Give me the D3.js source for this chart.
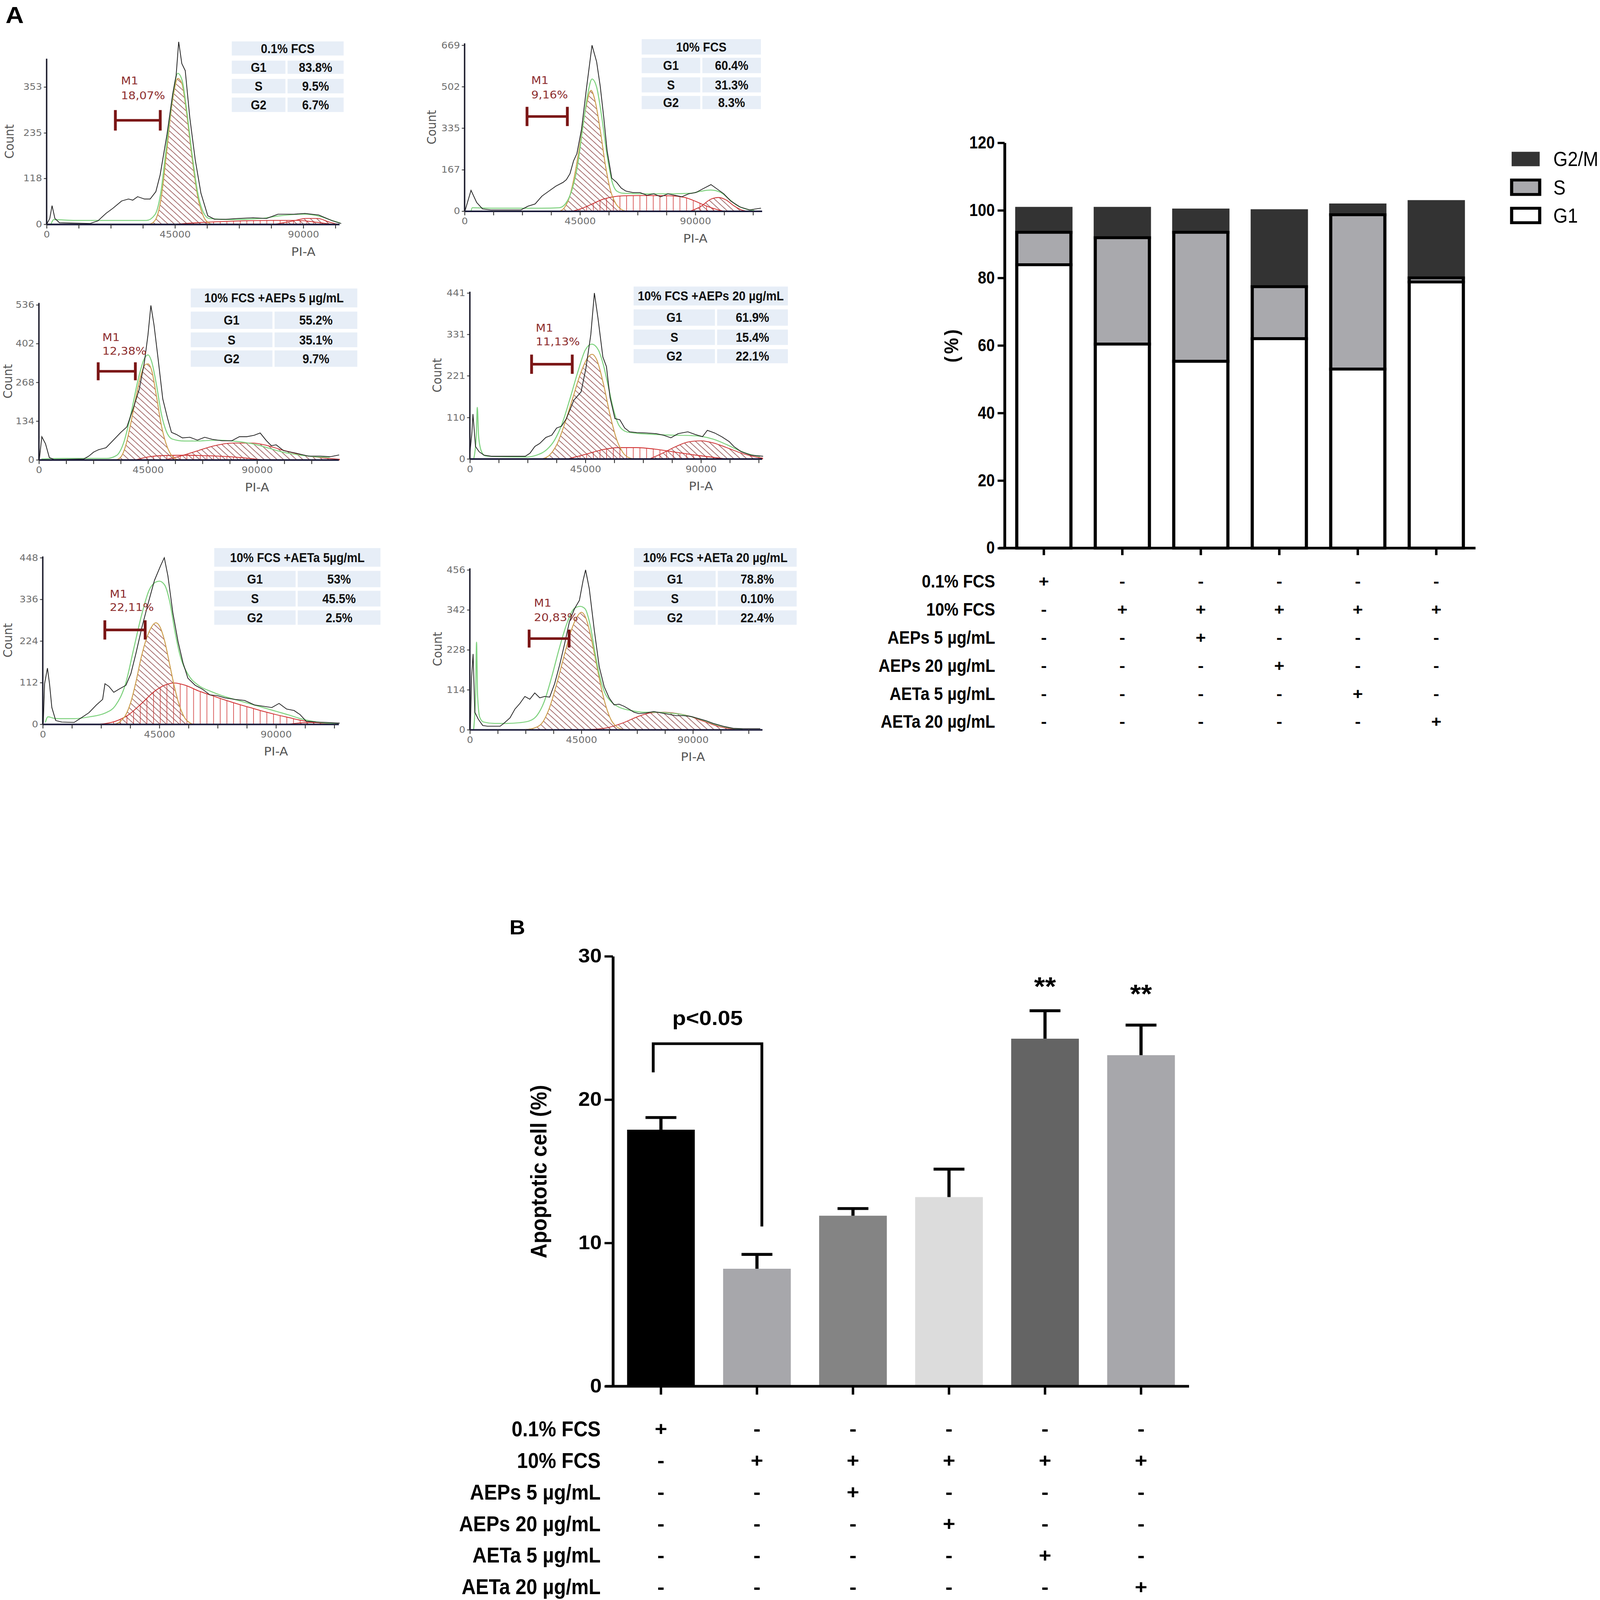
<!DOCTYPE html>
<html>
<head>
<meta charset="utf-8">
<script src="https://cdn.jsdelivr.net/npm/d3@7"></script>
<style>
  html, body { margin: 0; padding: 0; background: #fff; overflow: hidden; }
  svg { display: block; width: 100vw; height: 100vh; }
</style>
</head>
<body>
<svg id="fig" viewBox="0 0 4563 4986" preserveAspectRatio="none"></svg>
<script>
// ---------- data ----------
const histTitles = ["0.1% FCS", "10% FCS", "10% FCS +AEPs 5 \u00b5g/mL", "10% FCS +AEPs 20 \u00b5g/mL",
                    "10% FCS +AETa 5\u00b5g/mL", "10% FCS +AETa 20 \u00b5g/mL"];
const tableG1 = ["83.8%", "60.4%", "55.2%", "61.9%", "53%", "78.8%"];
const tableS  = ["9.5%", "31.3%", "35.1%", "15.4%", "45.5%", "0.10%"];
const tableG2 = ["6.7%", "8.3%", "9.7%", "22.1%", "2.5%", "22.4%"];
const m1Labels = ["18,07%", "9,16%", "12,38%", "11,13%", "22,11%", "20,83%"];
const histYTicks = [[0, 118, 235, 353], [0, 167, 335, 502, 669], [0, 134, 268, 402, 536],
                    [0, 110, 221, 331, 441], [0, 112, 224, 336, 448], [0, 114, 228, 342, 456]];
const histXLabels = [0, 45000, 90000];

// raw DNA content traces [PI-A, count]
const histTrace1 = [[0,0],[1100,15],[1900,48],[2900,15],[4500,4],[15200,2],[18000,9],[20800,28],[23200,41],[26300,60],[28700,65],[30200,62],[31900,71],[34300,65],[36300,65],[38300,84],[39800,127],[42200,231],[44200,335],[45400,382],[46300,469],[47400,413],[48600,395],[50200,274],[52100,166],[54100,80],[56500,22],[58900,13],[62900,13],[66800,15],[72400,17],[77100,15],[81100,26],[86700,26],[90600,28],[95400,24],[100200,9],[103300,2]];
const histTrace2 = [[200,3],[2500,84],[4700,35],[7000,9],[10200,5],[22000,5],[24700,20],[27500,29],[30200,61],[32900,81],[35600,101],[38400,116],[39700,127],[41100,151],[42500,203],[43800,232],[45600,330],[47500,492],[49700,669],[51500,602],[52900,504],[54300,376],[55600,243],[57400,133],[59300,116],[61100,93],[62900,81],[65600,75],[68400,75],[71100,64],[73800,70],[76500,58],[79300,70],[82000,64],[84700,58],[87400,70],[90200,75],[92900,90],[96100,107],[98400,90],[101100,70],[103800,41],[107400,17],[111100,5],[115600,12]];
const histTrace3 = [[200,3],[1200,80],[2700,56],[4300,8],[6300,1],[18500,3],[20600,13],[22600,27],[24600,35],[27700,42],[30700,68],[33800,95],[36300,114],[38900,177],[41400,244],[43500,336],[45000,432],[46200,534],[47500,466],[49100,355],[51100,211],[53100,143],[54700,95],[56700,88],[59200,76],[62300,78],[65400,68],[68400,78],[71500,71],[75500,66],[79600,66],[82700,80],[85700,80],[88800,85],[91300,93],[93900,66],[95900,49],[97900,52],[100900,32],[106100,23],[111200,13],[116300,13],[120300,11],[123900,17]];
const histTrace4 = [[0,15],[800,70],[1200,119],[2200,33],[3600,19],[5500,10],[8300,7],[21600,7],[23400,15],[25300,33],[27200,41],[29600,57],[31900,63],[33800,82],[35700,87],[37600,107],[40500,156],[43300,178],[45200,241],[47100,330],[48500,441],[49900,374],[51800,271],[53200,245],[54600,163],[56500,107],[58400,104],[60300,82],[62200,72],[65000,70],[68800,69],[72600,67],[75400,63],[78300,56],[81100,67],[84900,72],[87700,65],[90600,59],[92500,76],[95300,69],[98100,59],[101000,46],[102800,33],[105700,19],[109500,10],[114200,7]];
const histTrace5 = [[200,3],[700,109],[1800,151],[2600,109],[3500,45],[5000,10],[7300,6],[12100,5],[15000,18],[17800,31],[20700,52],[23100,67],[24000,109],[25500,102],[27400,86],[29300,94],[32100,105],[34000,136],[35900,189],[38300,262],[40700,326],[43100,387],[45500,427],[46900,448],[48300,399],[50200,300],[52200,223],[54100,166],[56000,124],[58800,105],[61700,94],[64500,79],[67400,77],[70300,71],[74100,67],[77900,64],[81700,52],[85500,48],[88400,45],[91200,56],[94100,41],[97000,37],[99300,26],[101700,8],[105500,6],[109400,5],[114600,3]];
const histTrace6 = [[200,2],[700,151],[1300,216],[2000,50],[3400,30],[5200,12],[7200,10],[12200,10],[13700,18],[16200,34],[18200,59],[20200,75],[22200,95],[24200,87],[26200,105],[28200,91],[30200,95],[32200,93],[34200,131],[36200,184],[38200,244],[40200,309],[42200,345],[44200,369],[45700,426],[46700,456],[48200,402],[50200,285],[52200,180],[54200,123],[56200,91],[58200,71],[60200,73],[62200,67],[64200,59],[66200,50],[68200,46],[71200,48],[74200,52],[77200,48],[80200,44],[83200,40],[86200,40],[89200,38],[92200,32],[95200,26],[98200,18],[102200,10],[106200,4],[110200,3],[117200,3]];

// model fit (green)
const histFit1 = [[1500,0],[2500,12],[10000,10],[20000,10],[35000,10],[38000,25],[40000,80],[42000,200],[44000,320],[46000,388],[47500,370],[49000,300],[51000,180],[53000,80],[55000,30],[57000,15],[65000,12],[75000,15],[82000,22],[90000,26],[96000,20],[100000,10],[103000,3]];
const histFit2 = [[2500,0],[3000,14],[10000,12],[20000,12],[30000,12],[37000,14],[40000,40],[42000,90],[44000,180],[46000,330],[48000,470],[49700,533],[51500,500],[53500,380],[55500,230],[57500,120],[59500,80],[62000,72],[70000,70],[80000,70],[88000,72],[92000,80],[96000,85],[100000,75],[103000,50],[106000,25],[110000,8],[113000,3]];
const histFit3 = [[1000,3],[10000,5],[28000,5],[32000,15],[35000,60],[38000,160],[41000,280],[43500,350],[45000,363],[46500,340],[48500,260],[50500,160],[52500,100],[55000,72],[60000,65],[65000,65],[70000,67],[75000,68],[80000,65],[85000,60],[90000,52],[95000,40],[100000,28],[105000,20],[110000,14],[115000,10],[120000,9]];
const histFit4 = [[1500,0],[2500,60],[2900,137],[3400,60],[4500,20],[6000,8],[10000,6],[22000,5],[26000,10],[30000,25],[33000,50],[36000,95],[39000,160],[42000,230],[45000,290],[47500,305],[50000,290],[52000,250],[54000,190],[56000,130],[58000,90],[61000,72],[65000,68],[72000,65],[80000,63],[86000,62],[90000,60],[95000,52],[100000,38],[104000,25],[108000,14],[113000,6]];
const histFit5 = [[1000,5],[2000,20],[5000,15],[12000,15],[18000,20],[24000,30],[28000,50],[32000,110],[35000,200],[38000,290],[41000,360],[43500,382],[45000,385],[47000,375],[49000,330],[51000,250],[53000,185],[56000,135],[60000,105],[65000,88],[70000,75],[75000,65],[80000,55],[85000,45],[90000,35],[95000,25],[100000,14],[105000,7],[110000,3],[114000,1]];
const histFit6 = [[1500,0],[2300,100],[2700,250],[3100,100],[4000,35],[5500,22],[10000,18],[15000,18],[20000,20],[24000,25],[27000,40],[30000,80],[33000,150],[36000,230],[39000,300],[42000,345],[44500,352],[46500,345],[48500,300],[50500,220],[52500,150],[54500,105],[57000,80],[60000,65],[65000,55],[70000,50],[75000,50],[80000,48],[85000,44],[90000,36],[95000,25],[100000,13],[105000,5],[110000,1]];

// fitted G1 / S / G2 components
const histG1_1 = [[36000,0],[38000,10],[40000,60],[42000,180],[44000,310],[46000,375],[47500,360],[49000,290],[51000,170],[53000,70],[55000,20],[57000,3],[58000,0]];
const histG1_2 = [[37000,0],[39000,15],[41000,60],[43000,150],[45000,270],[47000,400],[49300,487],[51000,440],[53000,320],[55000,180],[57000,80],[59000,30],[61000,8],[63000,0]];
const histG1_3 = [[32000,0],[34000,12],[36000,55],[38000,130],[40000,215],[42000,290],[44000,330],[45000,332],[46500,310],[48500,220],[50500,120],[52500,55],[54500,18],[56500,3],[58000,0]];
const histG1_4 = [[28000,0],[31000,10],[34000,40],[37000,95],[40000,160],[43000,225],[46000,270],[47600,278],[49500,262],[52000,200],[54500,120],[57000,55],[59500,18],[62000,3],[64000,0]];
const histG1_5 = [[28000,0],[30000,8],[32000,25],[34000,60],[36000,115],[38000,180],[40000,230],[42000,262],[43600,273],[45000,265],[47000,225],[49000,160],[51000,95],[53000,45],[55000,15],[57000,3],[58000,0]];
const histG1_6 = [[22000,0],[26000,5],[29000,18],[32000,60],[35000,130],[38000,210],[41000,285],[43500,325],[45000,335],[47000,315],[49000,260],[51000,190],[53000,120],[55000,65],[57000,28],[59000,10],[61000,2],[63000,0]];

const histS_1 = [[45000,0],[55000,5],[65000,8],[80000,10],[88000,10],[95000,5],[100000,0]];
const histS_2 = [[42000,0],[46000,12],[50000,30],[54000,48],[58000,58],[62000,62],[70000,63],[80000,62],[86000,55],[90000,40],[94000,22],[98000,8],[101000,0]];
const histS_3 = [[40000,0],[45000,10],[52000,15],[60000,16],[70000,14],[80000,10],[88000,4],[92000,0]];
const histS_4 = [[38000,0],[45000,12],[52000,25],[58000,30],[65000,30],[72000,26],[80000,18],[88000,10],[95000,4],[100000,0]];
const histS_5 = [[22000,0],[28000,8],[33000,25],[38000,55],[43000,88],[47000,105],[50700,111],[55000,105],[60000,90],[65000,78],[70000,66],[75000,55],[80000,45],[85000,35],[90000,26],[95000,18],[100000,10],[105000,5],[110000,2],[114000,0]];
const histS_6 = [];

const histG2_1 = [[80000,0],[86000,8],[91000,15],[95000,15],[99000,6],[102000,0]];
const histG2_2 = [[88000,0],[92000,18],[96000,48],[99000,55],[102000,45],[105000,22],[108000,5],[110000,0]];
const histG2_3 = [[52000,0],[58000,12],[65000,30],[72000,48],[80000,58],[88000,58],[94000,50],[100000,35],[106000,22],[112000,12],[118000,6],[124000,2]];
const histG2_4 = [[70000,0],[75000,15],[80000,32],[85000,45],[90000,48],[95000,42],[100000,30],[105000,17],[110000,7],[114000,2]];
const histG2_5 = [[95000,0],[100000,4],[105000,5],[110000,3],[114000,0]];
const histG2_6 = [[47000,0],[55000,5],[62000,20],[68000,38],[73000,48],[78000,50],[83000,47],[88000,40],[92000,30],[96000,20],[100000,10],[104000,4],[108000,0]];

// stacked cell-cycle bars (%)
const phaseKeys = ["G1", "S", "G2"];
const phaseLegend = ["G2/M", "S", "G1"];
const stackG1 = [83.9, 60.4, 55.3, 62.0, 53.0, 78.8];
const stackS  = [9.6, 31.5, 38.2, 15.4, 45.7, 1.2];
const stackG2 = [7.1, 8.7, 6.6, 22.5, 2.9, 22.6];
const stackTicks = [0, 20, 40, 60, 80, 100, 120];

// apoptosis bars (%)
const apopMean = [17.9, 8.2, 11.9, 13.2, 24.25, 23.1];
const apopErr  = [0.85, 1.0, 0.5, 1.95, 1.95, 2.1];
const apopTicks = [0, 10, 20, 30];
const apopStars = ["", "", "", "", "**", "**"];
const apopStarAt = [0, 0, 0, 0, 28.3, 27.8];
const bracketLeft = 21.9, bracketTop = 23.9, bracketRight = 11.15, bracketText = "p<0.05", bracketTextAt = 25.2;

// treatment design
const treatments = ["0.1% FCS", "10% FCS", "AEPs 5 \u00b5g/mL", "AEPs 20 \u00b5g/mL", "AETa 5 \u00b5g/mL", "AETa 20 \u00b5g/mL"];
const design = [
  [1, 0, 0, 0, 0, 0],
  [0, 1, 1, 1, 1, 1],
  [0, 0, 1, 0, 0, 0],
  [0, 0, 0, 1, 0, 0],
  [0, 0, 0, 0, 1, 0],
  [0, 0, 0, 0, 0, 1]
];

// ---------- layout ----------
const ARIAL = "'Liberation Sans',Arial,sans-serif";
const FLOW = "'DejaVu Sans',Verdana,sans-serif";
const SQ = 0.82; // horizontal squeeze to mimic a narrow face

const histTraces = [histTrace1, histTrace2, histTrace3, histTrace4, histTrace5, histTrace6];
const histFits = [histFit1, histFit2, histFit3, histFit4, histFit5, histFit6];
const histG1s = [histG1_1, histG1_2, histG1_3, histG1_4, histG1_5, histG1_6];
const histSs = [histS_1, histS_2, histS_3, histS_4, histS_5, histS_6];
const histG2s = [histG2_1, histG2_2, histG2_3, histG2_4, histG2_5, histG2_6];

const histLayout = [
  {x0:133, x90:865, xEnd:968, y0:699, tickPx:271, yTop:183, countX:26,
   tbl:{x0:658, x1:983, split:817, rows:[[126,176],[186,233],[243,294],[301,352]]},
   m1:{x0:329, x1:457, y:375, h:32, tx:345, ty1:252, ty2:298}},
  {x0:1325, x90:1983, xEnd:2173, y0:658, tickPx:141, yTop:135, countX:1230,
   tbl:{x0:1827, x1:2173, split:2000, rows:[[119,173],[177,231],[238,291],[296,343]]},
   m1:{x0:1503, x1:1618, y:363, h:30, tx:1515, ty1:251, ty2:296}},
  {x0:111, x90:733, xEnd:966, y0:1433, tickPx:950, yTop:944, countX:22,
   tbl:{x0:541, x1:1022, split:780, rows:[[896,961],[968,1028],[1033,1085],[1089,1146]]},
   m1:{x0:280, x1:386, y:1157, h:28, tx:292, ty1:1052, ty2:1094}},
  {x0:1340, x90:1999, xEnd:2173, y0:1430, tickPx:913, yTop:909, countX:1246,
   tbl:{x0:1804, x1:2250, split:2042, rows:[[890,955],[961,1018],[1024,1078],[1085,1135]]},
   m1:{x0:1516, x1:1632, y:1135, h:30, tx:1528, ty1:1022, ty2:1065}},
  {x0:122, x90:787, xEnd:966, y0:2257, tickPx:1738, yTop:1734, countX:22,
   tbl:{x0:608, x1:1088, split:846, rows:[[1705,1769],[1776,1833],[1838,1893],[1899,1950]]},
   m1:{x0:299, x1:414, y:1963, h:30, tx:313, ty1:1851, ty2:1893}},
  {x0:1340, x90:1976, xEnd:2174, y0:2274, tickPx:1776, yTop:1771, countX:1247,
   tbl:{x0:1805, x1:2275, split:2044, rows:[[1705,1769],[1776,1833],[1838,1893],[1899,1950]]},
   m1:{x0:1509, x1:1623, y:1990, h:28, tx:1523, ty1:1880, ty2:1924}}
];

const svg = d3.select("#fig");
svg.append("rect").attr("width", 4563).attr("height", 4986).attr("fill", "#fff");

// hatch patterns for the fitted components
const defs = svg.append("defs");
defs.append("pattern").attr("id", "hatchDiag").attr("patternUnits", "userSpaceOnUse")
    .attr("width", 13).attr("height", 13).attr("patternTransform", "rotate(-45)")
  .append("line").attr("x1", 1).attr("x2", 1).attr("y1", 0).attr("y2", 13)
    .attr("stroke", "#8e4646").attr("stroke-width", 1.8);
defs.append("pattern").attr("id", "hatchVert").attr("patternUnits", "userSpaceOnUse")
    .attr("width", 19).attr("height", 19)
  .append("line").attr("x1", 1).attr("x2", 1).attr("y1", 0).attr("y2", 19)
    .attr("stroke", "#d23c3c").attr("stroke-width", 1.8);

// panel letters
svg.append("text").attr("x", 16).attr("y", 72).text("A")
  .attr("font-family", ARIAL).attr("font-weight", "bold").attr("font-size", 72);
svg.append("text").attr("x", 1453).attr("y", 2912).text("B")
  .attr("font-family", ARIAL).attr("font-weight", "bold").attr("font-size", 62);

// ---------- flow cytometry histograms ----------
function drawHist(i) {
  const p = histLayout[i];
  const g = svg.append("g");
  const x = d3.scaleLinear().domain([0, 90000]).range([p.x0, p.x90]);
  const xMax = x.invert(p.xEnd);
  x.domain([0, xMax]).range([p.x0, p.xEnd]);
  const ticks = histYTicks[i];
  const y = d3.scaleLinear().domain([0, ticks[ticks.length - 1]]).range([p.y0, p.tickPx]);

  // table with percentages
  const t = p.tbl, gap = 3;
  const cells = [{x0: t.x0, x1: t.x1, r: 0, text: histTitles[i]}];
  ["G1", "S", "G2"].forEach((lab, k) => {
    const val = [tableG1, tableS, tableG2][k][i];
    cells.push({x0: t.x0, x1: t.split, r: k + 1, text: lab});
    cells.push({x0: t.split, x1: t.x1, r: k + 1, text: val});
  });
  g.selectAll(".cell").data(cells).join("rect")
    .attr("x", d => d.x0 + gap).attr("width", d => d.x1 - d.x0 - 2 * gap)
    .attr("y", d => t.rows[d.r][0] + gap).attr("height", d => t.rows[d.r][1] - t.rows[d.r][0] - 2 * gap)
    .attr("fill", "#e7eef7");
  g.selectAll(".ctext").data(cells).join("text")
    .attr("transform", d => `translate(${(d.x0 + d.x1) / 2},${(t.rows[d.r][0] + t.rows[d.r][1]) / 2}) scale(${SQ},1)`)
    .attr("text-anchor", "middle").attr("dominant-baseline", "central")
    .attr("font-family", ARIAL).attr("font-weight", "bold").attr("font-size", 41).attr("fill", "#111")
    .text(d => d.text);

  // fitted components
  const area = d3.area().x(d => x(d[0])).y0(p.y0).y1(d => y(d[1])).curve(d3.curveMonotoneX);
  const line = d3.line().x(d => x(d[0])).y(d => y(d[1])).curve(d3.curveMonotoneX);
  if (histG2s[i].length) {
    g.append("path").datum(histG2s[i]).attr("d", area)
      .attr("fill", "url(#hatchDiag)").attr("stroke", "#cc3838").attr("stroke-width", 2.5);
  }
  if (histSs[i].length) {
    g.append("path").datum(histSs[i]).attr("d", area)
      .attr("fill", "url(#hatchVert)").attr("stroke", "#d03030").attr("stroke-width", 2.5);
  }
  g.append("path").datum(histG1s[i]).attr("d", area)
    .attr("fill", "url(#hatchDiag)").attr("stroke", "#b4503c").attr("stroke-width", 2.5);
  g.append("path").datum(histG1s[i]).attr("d", line)
    .attr("fill", "none").attr("stroke", "#d8c850").attr("stroke-width", 2).attr("stroke-opacity", 0.8);
  g.append("path").datum(histFits[i]).attr("d", line)
    .attr("fill", "none").attr("stroke", "#7fd27f").attr("stroke-width", 3);
  g.append("path").datum(histTraces[i])
    .attr("d", d3.line().x(d => x(d[0])).y(d => y(d[1])))
    .attr("fill", "none").attr("stroke", "#1e1e1e").attr("stroke-width", 2.2);

  // axes
  const xa = g.append("g").attr("transform", `translate(0,${p.y0})`)
    .call(d3.axisBottom(x).tickValues(d3.range(0, xMax, 11250)).tickSize(13).tickSizeOuter(0)
      .tickFormat(d => histXLabels.includes(d) ? d : ""));
  xa.select(".domain").attr("stroke", "#1a1a3a").attr("stroke-width", 5);
  xa.selectAll(".tick line").attr("stroke", "#333").attr("stroke-width", 2.5);
  xa.selectAll(".tick text").attr("font-family", FLOW).attr("font-size", 28).attr("fill", "#6e6e6e")
    .attr("dy", "0.9em");
  const ya = g.append("g").attr("transform", `translate(${p.x0},0)`)
    .call(d3.axisLeft(y).tickValues(ticks).tickSize(8).tickPadding(5));
  ya.select(".domain").remove();
  ya.selectAll(".tick line").attr("stroke", "#333").attr("stroke-width", 2.5);
  ya.selectAll(".tick text").attr("font-family", FLOW).attr("font-size", 28).attr("fill", "#6e6e6e");
  g.append("line").attr("x1", p.x0).attr("x2", p.x0).attr("y1", p.y0).attr("y2", p.yTop)
    .attr("stroke", "#1a1a2a").attr("stroke-width", 4);

  g.append("text").attr("transform", `translate(${p.countX},${(p.y0 + p.yTop) / 2}) rotate(-90)`)
    .attr("text-anchor", "middle").attr("dominant-baseline", "central")
    .attr("font-family", FLOW).attr("font-size", 36).attr("fill", "#555").text("Count");
  g.append("text").attr("x", x(90000)).attr("y", p.y0 + 85)
    .attr("text-anchor", "middle").attr("dominant-baseline", "central")
    .attr("font-family", FLOW).attr("font-size", 36).attr("fill", "#555").text("PI-A");

  // M1 marker
  const m = p.m1;
  g.append("path")
    .attr("d", `M${m.x0},${m.y - m.h}V${m.y + m.h}M${m.x0},${m.y}H${m.x1}M${m.x1},${m.y - m.h}V${m.y + m.h}`)
    .attr("fill", "none").attr("stroke", "#7b1616").attr("stroke-width", 8);
  g.selectAll(".m1t").data(["M1", m1Labels[i]]).join("text")
    .attr("x", m.tx).attr("y", (d, k) => k ? m.ty2 : m.ty1).attr("dominant-baseline", "central")
    .attr("font-family", FLOW).attr("font-size", 33).attr("fill", "#8e2e2e").text(d => d);
}
d3.range(6).forEach(drawHist);

// ---------- stacked cell-cycle chart ----------
const stackRows = stackG1.map((v, i) => ({G1: v, S: stackS[i], G2: stackG2[i]}));
const series = d3.stack().keys(phaseKeys)(stackRows);
const xS = d3.scaleBand().domain(d3.range(6)).range([2865, 4208]).paddingInner(0.31).paddingOuter(0.155);
const yS = d3.scaleLinear().domain([0, 120]).range([1708, 445]);
const phaseFill = {G1: "#ffffff", S: "#a9a9ad", G2: "#333333"};
const phaseStroke = {G1: "#000", S: "#000", G2: "#333"};

const gS = svg.append("g");
series.slice().reverse().forEach(s => {
  gS.append("g").selectAll("rect").data(s).join("rect")
    .attr("x", (d, i) => xS(i)).attr("width", xS.bandwidth())
    .attr("y", d => yS(d[1])).attr("height", d => yS(d[0]) - yS(d[1]))
    .attr("fill", phaseFill[s.key]).attr("stroke", phaseStroke[s.key]).attr("stroke-width", 9);
});
const sYA = gS.append("g").attr("transform", "translate(2865,0)")
  .call(d3.axisLeft(yS).tickValues(stackTicks).tickSize(20).tickSizeOuter(0).tickPadding(8));
sYA.select(".domain").attr("stroke-width", 8);
sYA.selectAll(".tick line").attr("stroke-width", 7);
sYA.selectAll(".tick text").attr("x", -28 / SQ).attr("transform", `scale(${SQ},1)`)
  .attr("font-family", ARIAL).attr("font-weight", "bold").attr("font-size", 53).attr("fill", "#000");
const sXA = gS.append("g").attr("transform", "translate(0,1708)")
  .call(d3.axisBottom(xS).tickSize(22).tickSizeOuter(0).tickFormat(""));
sXA.select(".domain").attr("d", `M${xS.range()[0] - 16},0H${xS.range()[1]}`).attr("stroke-width", 8);
sXA.selectAll(".tick line").attr("stroke-width", 7);
gS.append("text").attr("transform", "translate(2713,1074) rotate(-90)")
  .attr("text-anchor", "middle").attr("dominant-baseline", "central")
  .attr("font-family", ARIAL).attr("font-weight", "bold").attr("font-size", 56).attr("letter-spacing", 8)
  .text("(%)");

// legend
const legKeys = ["G2", "S", "G1"];
const leg = gS.selectAll(".leg").data(legKeys).join("g")
  .attr("transform", (d, i) => `translate(4311,${473 + i * 88})`);
leg.append("rect").attr("width", 80).attr("height", 45)
  .attr("fill", d => phaseFill[d]).attr("stroke", d => phaseStroke[d]).attr("stroke-width", d => d === "G2" ? 0 : 9);
leg.append("text").attr("transform", `translate(119,23) scale(${SQ},1)`).attr("dominant-baseline", "central")
  .attr("font-family", ARIAL).attr("font-size", 64).attr("fill", "#000")
  .text((d, i) => phaseLegend[i]);

// treatment tables
function drawDesign(xScale, labelRight, rowY0, rowStep, fontSize) {
  const g = svg.append("g");
  g.selectAll(".lab").data(treatments).join("text")
    .attr("transform", (d, r) => `translate(${labelRight},${rowY0 + r * rowStep}) scale(${SQ},1)`)
    .attr("text-anchor", "end").attr("dominant-baseline", "central")
    .attr("font-family", ARIAL).attr("font-weight", "bold").attr("font-size", fontSize).attr("fill", "#000")
    .text(d => d);
  const cells = [];
  design.forEach((row, r) => row.forEach((v, c) => cells.push({r, c, v})));
  g.selectAll(".sym").data(cells).join("text")
    .attr("x", d => xScale(d.c) + xScale.bandwidth() / 2).attr("y", d => rowY0 + d.r * rowStep)
    .attr("text-anchor", "middle").attr("dominant-baseline", "central")
    .attr("font-family", ARIAL).attr("font-weight", "bold").attr("font-size", fontSize * 0.9).attr("fill", "#000")
    .text(d => d.v ? "+" : "-");
}
drawDesign(xS, 2838, 1811, 87.5, 56);

// ---------- apoptosis bar chart ----------
const xB = d3.scaleBand().domain(d3.range(6)).range([1748, 3391]).paddingInner(0.295).paddingOuter(0.1475);
const yB = d3.scaleLinear().domain([0, 30]).range([4320, 2980]);
const apopFill = ["#000000", "#a7a7ab", "#848484", "#dcdcdc", "#646464", "#a7a7ab"];
const gB = svg.append("g");
const cx = i => xB(i) + xB.bandwidth() / 2;

gB.selectAll(".bar").data(apopMean).join("rect")
  .attr("x", (d, i) => xB(i)).attr("width", xB.bandwidth())
  .attr("y", d => yB(d)).attr("height", d => yB(0) - yB(d))
  .attr("fill", (d, i) => apopFill[i]);
gB.selectAll(".err").data(apopMean).join("path")
  .attr("d", (d, i) => `M${cx(i)},${yB(d)}V${yB(d + apopErr[i])}M${cx(i) - 44},${yB(d + apopErr[i])}H${cx(i) + 44}`)
  .attr("fill", "none").attr("stroke", "#000").attr("stroke-width", 9);

const bYA = gB.append("g").attr("transform", "translate(1748,0)")
  .call(d3.axisLeft(yB).tickValues(apopTicks).tickSize(24).tickSizeOuter(0).tickPadding(8));
bYA.select(".domain").attr("stroke-width", 8);
bYA.selectAll(".tick line").attr("stroke-width", 7);
bYA.selectAll(".tick text").attr("font-family", ARIAL).attr("font-weight", "bold").attr("font-size", 60).attr("fill", "#000");
const bXA = gB.append("g").attr("transform", "translate(0,4320)")
  .call(d3.axisBottom(xB).tickSize(26).tickSizeOuter(0).tickFormat(""));
bXA.select(".domain").attr("d", `M${xB.range()[0] - 22},0H${xB.range()[1]}`).attr("stroke-width", 8);
bXA.selectAll(".tick line").attr("stroke-width", 7);

gB.append("text").attr("transform", "translate(1536,3651) rotate(-90)")
  .attr("text-anchor", "middle").attr("dominant-baseline", "central")
  .attr("font-family", ARIAL).attr("font-weight", "bold").attr("font-size", 64).text("Apoptotic cell (%)");

// significance
const bl = cx(0) - 22, br = cx(1) + 14;
gB.append("path")
  .attr("d", `M${bl},${yB(bracketLeft)}V${yB(bracketTop)}H${br}V${yB(bracketRight)}`)
  .attr("fill", "none").attr("stroke", "#000").attr("stroke-width", 8);
gB.append("text").attr("x", (bl + br) / 2).attr("y", yB(bracketTextAt)).attr("text-anchor", "middle")
  .attr("font-family", ARIAL).attr("font-weight", "bold").attr("font-size", 64).text(bracketText);
gB.selectAll(".star").data(apopStars).join("text")
  .attr("x", (d, i) => cx(i)).attr("y", (d, i) => yB(apopStarAt[i]) + 46)
  .attr("text-anchor", "middle")
  .attr("font-family", ARIAL).attr("font-weight", "bold").attr("font-size", 80).text(d => d);

drawDesign(xB, 1713, 4452, 98.5, 68);
</script>
</body>
</html>
